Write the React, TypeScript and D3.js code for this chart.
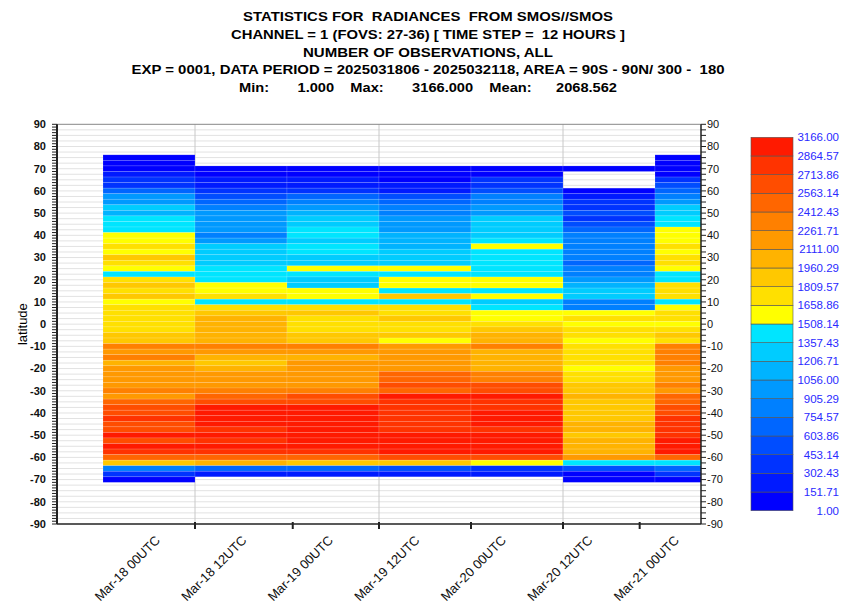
import * as d3 from 'd3';

// ---- data ----
const TITLE_LINES = [
  'STATISTICS FOR  RADIANCES  FROM SMOS//SMOS',
  'CHANNEL = 1 (FOVS: 27-36) [ TIME STEP =  12 HOURS ]',
  'NUMBER OF OBSERVATIONS, ALL',
  'EXP = 0001, DATA PERIOD = 2025031806 - 2025032118, AREA = 90S - 90N/ 300 -  180',
  'Min:       1.000    Max:       3166.000    Mean:      2068.562',
];
const TITLE_WIDTHS = [370, 394, 250, 593, 378];

// legend classes (bottom -> top)
const LEGEND_TICKS = [
  1.0, 151.71, 302.43, 453.14, 603.86, 754.57, 905.29, 1056.0, 1206.71, 1357.43, 1508.14,
  1658.86, 1809.57, 1960.29, 2111.0, 2261.71, 2412.43, 2563.14, 2713.86, 2864.57, 3166.0,
];
const LEGEND_COLORS = [
  '#0000ff', '#001aff', '#0033ff', '#004dff', '#0066ff', '#0080ff', '#0099ff', '#00b3ff', '#00ccff', '#00e5ff',
  '#ffff00', '#ffe000', '#ffc800', '#ffb300', '#ff9900', '#ff8000', '#ff6600', '#ff4d00', '#ff3300', '#ff1a00',
];

// time axis in hours since Mar-18 00UTC
const HOUR_DOMAIN = [0, 84];
const STEP_HOURS = 12;
const COLUMN_STARTS = [6, 18, 30, 42, 54, 66, 78]; // 2025031806 ... 2025032118
const X_TICK_HOURS = [18, 30.75, 42, 54, 66, 76];
const X_GRID_HOURS = [18, 42, 66];
const X_LABELS = ['Mar-18 00UTC', 'Mar-18 12UTC', 'Mar-19 00UTC', 'Mar-19 12UTC', 'Mar-20 00UTC', 'Mar-20 12UTC', 'Mar-21 00UTC'];

// latitude band centres, 2.5 deg bands, 75N .. 70S
const BAND = 2.5;
const LATS = d3.range(75, -71, -BAND);

// number of observations per latitude band (top to bottom), one list per time step
const COL1 = [52, 52, 52, 228, 379, 379, 684, 981, 981, 1284, 1133, 1436, 1436, 1436, 1585, 1585, 1737, 1585, 1886, 1737,
  1585, 1436, 1737, 1886, 1737, 1886, 1585, 1737, 1737, 1737, 1737, 1737, 1886, 1886, 2339, 2189, 2339, 2038, 2189, 2189,
  2189, 2189, 2339, 2189, 2490, 2641, 2641, 2790, 2641, 2641, 2980, 2641, 2980, 2790, 2490, 1886, 829, 379, 52];
const COL2 = [null, null, 52, 52, 228, 228, 379, 531, 684, 829, 981, 981, 981, 981, 829, 981, 1284, 1284, 1284, 1284,
  1436, 1436, 1436, 1585, 1585, 1737, 1436, 1737, 1886, 2038, 2038, 2038, 2038, 2038, 2339, 2189, 2038, 1886, 2038, 2189,
  2189, 2189, 2339, 2490, 2641, 2980, 2980, 2980, 2980, 2790, 2980, 2790, 2980, 2790, 2490, 2038, 684, 228, null];
const COL3 = [null, null, 52, 52, 228, 228, 379, 684, 829, 981, 1133, 1284, 1284, 1436, 1436, 1284, 1436, 1436, 1284, 1284,
  1585, 1436, 1284, 1284, 1585, 1585, 1436, 1737, 1886, 1737, 1737, 1737, 1886, 1886, 2339, 2189, 2038, 2189, 2189, 2189,
  2189, 2189, 2339, 2641, 2641, 2980, 3166, 2980, 2980, 2980, 2980, 2980, 2980, 2790, 2490, 1886, 684, 228, null];
const COL4 = [null, null, 52, 52, 52, 228, 228, 531, 684, 829, 829, 981, 981, 981, 1133, 1133, 1133, 1284, 1284, 1284,
  1585, 1436, 1585, 1585, 1436, 1886, 1436, 1737, 1737, 1886, 1737, 1737, 1886, 1585, 2189, 2189, 2189, 2189, 2189, 2490,
  2490, 2641, 2490, 2980, 2790, 2790, 2790, 2790, 2790, 2790, 2980, 2980, 2980, 2980, 2641, 1886, 531, 228, null];
const COL5 = [null, null, 52, 52, 379, 379, 531, 829, 829, 981, 981, 1284, 1284, 1284, 1284, 1436, 1585, 1436, 1436, 1436,
  1436, 1436, 1585, 1585, 1436, 1585, 1284, 1436, 1585, 1585, 1737, 1886, 2038, 2038, 2339, 2038, 2038, 2038, 2038, 2339,
  2339, 2641, 2641, 2980, 2790, 2790, 2980, 2980, 2980, 2790, 2980, 2980, 2980, 2980, 2641, 1585, 379, 228, null];
const COL6 = [null, null, 1, null, null, null, 52, 228, 379, 379, 531, 379, 531, 684, 829, 829, 829, 829, 829, 684,
  829, 829, 981, 1133, 1284, 1284, 829, 829, 1585, 1737, 1585, 1737, 1737, 1585, 1737, 1737, 1737, 1737, 1585, 1737,
  1737, 1886, 1886, 2038, 1886, 1886, 1886, 1886, 2038, 2038, 1886, 2038, 2038, 2038, 2189, 1436, 531, 52, 52];
const COL7 = [52, 52, 52, 52, 379, 531, 684, 829, 981, 1284, 1284, 1436, 1436, 1585, 1585, 1585, 1737, 1585, 1737, 1737,
  1585, 1436, 1436, 1737, 1737, 1737, 1436, 1585, 1737, 1737, 1585, 1737, 1886, 1737, 2339, 2339, 2339, 2339, 2189, 2189,
  2189, 2339, 2189, 2490, 2490, 2641, 2641, 2790, 2790, 2790, 2790, 2980, 2980, 2980, 2490, 1436, 684, 379, 52];
const COLUMNS = [COL1, COL2, COL3, COL4, COL5, COL6, COL7];

const Y_LABELS = d3.range(-90, 91, 10);

// ---- layout ----
const W = 842;
const H = 604;
const PLOT = { left: 57, right: 701, top: 124.3, bottom: 524 };
const LEGEND = { left: 751, right: 793, top: 137.3, bottom: 510.7, textRight: 839 };
const FONT = "'Liberation Sans', Arial, Helvetica, sans-serif";

export default function App() {
  const x = d3.scaleLinear().domain(HOUR_DOMAIN).range([PLOT.left, PLOT.right]);
  const y = d3.scaleLinear().domain([-90, 90]).range([PLOT.bottom, PLOT.top]);
  const color = d3.scaleThreshold<number, string>().domain(LEGEND_TICKS.slice(1, -1)).range(LEGEND_COLORS);
  const xl = d3.scalePoint<string>().domain(X_LABELS).range([161, 680]);
  const ly = d3.scaleLinear().domain([0, LEGEND_COLORS.length]).range([LEGEND.bottom, LEGEND.top]);

  const cells: { key: string; x: number; y: number; w: number; h: number; fill: string }[] = [];
  COLUMNS.forEach((col, ci) => {
    const t0 = COLUMN_STARTS[ci];
    col.forEach((v, li) => {
      if (v == null) return;
      const lat = LATS[li];
      cells.push({
        key: `${ci}-${li}`,
        x: x(t0),
        y: y(lat + BAND / 2),
        w: x(t0 + STEP_HOURS) - x(t0),
        h: y(lat - BAND / 2) - y(lat + BAND / 2),
        fill: color(v),
      });
    });
  });

  const gridLats = d3.range(-87.5, 90, BAND);
  const leftTicks = d3.range(-90, 90.01, 1.25);
  const rightTicks = d3.range(-90, 90.01, 2.5);

  return (
    <svg width={W} height={H} style={{ position: 'absolute', left: 0, top: 0, display: 'block', background: '#fff' }}
      fontFamily={FONT}>
      <defs>
        <clipPath id="plotClip">
          <rect x={PLOT.left} y={PLOT.top} width={PLOT.right - PLOT.left} height={PLOT.bottom - PLOT.top} />
        </clipPath>
      </defs>

      {/* titles */}
      {TITLE_LINES.map((t, i) => (
        <text key={i} x={428} y={21 + i * 17.8} textAnchor="middle" fontSize={13} fontWeight="bold"
          textLength={TITLE_WIDTHS[i]} lengthAdjust="spacingAndGlyphs" style={{ whiteSpace: 'pre' }}>
          {t}
        </text>
      ))}

      {/* grid */}
      <g stroke="#e2e2e2" strokeWidth={1}>
        {gridLats.map(l => (
          <line key={l} x1={PLOT.left} x2={PLOT.right} y1={y(l)} y2={y(l)} />
        ))}
      </g>
      <g stroke="#c8c8c8" strokeWidth={1}>
        {X_GRID_HOURS.map(h => (
          <line key={h} x1={x(h)} x2={x(h)} y1={PLOT.top} y2={PLOT.bottom} />
        ))}
      </g>

      {/* cells */}
      <g clipPath="url(#plotClip)">
        {cells.map(c => (
          <rect key={c.key} x={c.x} y={c.y} width={c.w} height={c.h} fill={c.fill}
            stroke="rgba(255,255,255,0.22)" strokeWidth={0.6} />
        ))}
      </g>

      {/* frame */}
      <line x1={PLOT.left} x2={PLOT.right} y1={PLOT.top} y2={PLOT.top} stroke="#888" strokeWidth={1} />
      <line x1={PLOT.left} x2={PLOT.right} y1={PLOT.bottom} y2={PLOT.bottom} stroke="#222" strokeWidth={1.5} />
      <line x1={PLOT.left} x2={PLOT.left} y1={PLOT.top} y2={PLOT.bottom} stroke="#222" strokeWidth={2} />
      <line x1={PLOT.right} x2={PLOT.right} y1={PLOT.top} y2={PLOT.bottom} stroke="#222" strokeWidth={1.5} />

      {/* left axis */}
      <g stroke="#222" strokeWidth={1}>
        {leftTicks.map(l => (
          <line key={l} x1={PLOT.left - 5} x2={PLOT.left} y1={y(l)} y2={y(l)} />
        ))}
      </g>
      {Y_LABELS.map(l => (
        <text key={l} x={46} y={y(l)} dy="0.35em" textAnchor="end" fontSize={11} fontWeight="bold" fill="#111">{l}</text>
      ))}
      <text transform={`translate(22,${(PLOT.top + PLOT.bottom) / 2}) rotate(-90)`} textAnchor="middle" fontSize={13}
        dy="0.35em">latitude</text>

      {/* right axis */}
      <g stroke="#222" strokeWidth={1}>
        {rightTicks.map(l => (
          <line key={l} x1={PLOT.right} x2={PLOT.right + 5} y1={y(l)} y2={y(l)} />
        ))}
      </g>
      {Y_LABELS.map(l => (
        <text key={l} x={707} y={y(l)} dy="0.35em" textAnchor="start" fontSize={11} fill="#111">{l}</text>
      ))}

      {/* bottom axis */}
      <g stroke="#222" strokeWidth={2}>
        {X_TICK_HOURS.map(h => (
          <line key={h} x1={x(h)} x2={x(h)} y1={PLOT.bottom - 2} y2={PLOT.bottom + 5} />
        ))}
      </g>
      {X_LABELS.map(s => (
        <text key={s} transform={`translate(${xl(s)},541) rotate(-45)`} textAnchor="end" fontSize={13} fill="#111">{s}</text>
      ))}

      {/* legend */}
      <g>
        {LEGEND_COLORS.map((c, i) => (
          <rect key={c} x={LEGEND.left} y={ly(i + 1)} width={LEGEND.right - LEGEND.left} height={ly(i) - ly(i + 1)}
            fill={c} stroke="#555" strokeWidth={0.6} />
        ))}
        {LEGEND_TICKS.map((v, i) => (
          <text key={v} x={LEGEND.textRight} y={ly(i)} dy="0.35em" textAnchor="end" fontSize={11.5} fill="#2a2aff">
            {v.toFixed(2)}
          </text>
        ))}
      </g>
    </svg>
  );
}
